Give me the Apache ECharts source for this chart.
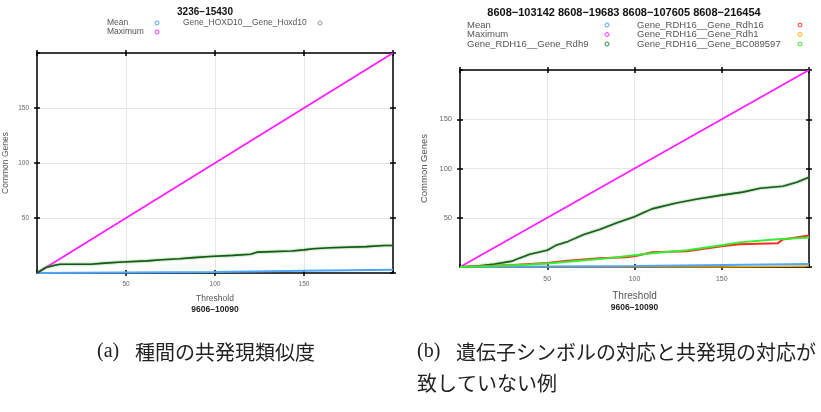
<!DOCTYPE html>
<html>
<head>
<meta charset="utf-8">
<script src="https://cdn.jsdelivr.net/npm/echarts@6/dist/echarts.min.js"></script>
<style>
  html, body { margin: 0; padding: 0; background: #fff; }
  #chart { width: 821px; height: 412px; }
</style>
</head>
<body>
<div id="chart"></div>
<script>
// (a) 3236-15430
const meanA = [[0, 0], [50, 0.5], [100, 1], [150, 2], [200, 3]];
const maxA = [[0, 0], [200, 200]];
const hoxd10A = [[0, 0], [5, 5], [10, 7], [13, 8], [30, 8], [38, 9], [48, 10], [62, 11], [70, 12], [80, 13],
  [88, 14], [97, 15], [110, 16], [120, 17], [124, 19], [143, 20], [150, 21], [155, 22], [165, 23], [185, 24], [195, 25], [200, 25]];

// (b) 8608-...
const meanB = [[0, 0], [100, 1], [200, 3]];
const maxB = [[0, 0], [200, 200]];
const rdh9B = [[0, 0], [10, 1], [20, 3], [30, 6], [34, 9], [40, 13], [50, 17], [55, 22], [62, 26], [71, 33], [80, 38],
  [90, 45], [100, 51], [105, 55], [110, 59], [124, 65], [136, 69], [150, 73], [162, 76], [172, 80], [185, 82], [193, 86], [200, 91]];
const rdh16B = [[0, 0], [30, 2], [50, 4], [60, 6], [80, 9], [95, 10], [100, 11], [110, 15], [130, 16], [150, 21],
  [160, 23], [182, 24], [185, 28], [200, 32]];
const rdh1B = [[0, 0], [150, 0], [200, 1]];
const bc089597B = [[0, 0], [20, 1], [40, 2.5], [50, 3.5], [60, 5], [80, 8], [100, 12], [110, 14], [130, 17], [150, 22],
  [160, 25], [180, 28], [200, 30]];

const tickLabels = [50, 100, 150];

const FONT = '"Liberation Sans", Arial, sans-serif';

// 4 axes per dimension: main (labels, grid), inner ticks, opposite outer, opposite inner
function axesFor(gridIndex, dim, opt) {
  const sides = dim === 'x' ? ['bottom', 'top'] : ['left', 'right'];
  const tick = inside => ({ inside: inside, length: 3, lineStyle: { color: '#000', width: 1.5 } });
  const base = {
    type: 'value', gridIndex: gridIndex, min: 0, max: 200, interval: 50,
    axisLine: { onZero: false, lineStyle: { color: '#000', width: 1.5 } },
    axisTick: tick(false),
    axisLabel: { show: false },
    splitLine: { show: false }
  };
  const main = Object.assign({}, base, {
    position: sides[0],
    axisLabel: {
      show: true, fontSize: opt.labelSize, color: '#666', fontFamily: FONT, margin: opt.margin,
      showMinLabel: false, showMaxLabel: false,
      formatter: v => tickLabels.indexOf(v) >= 0 ? String(v) : ''
    },
    splitLine: { show: true, lineStyle: { color: '#e6e6e6', width: 1 } },
    name: opt.name, nameLocation: 'middle', nameGap: opt.nameGap,
    nameTextStyle: opt.nameTextStyle
  });
  const noLine = { show: false, onZero: false };
  const mainIn = Object.assign({}, base, { position: sides[0], axisLine: noLine, axisTick: tick(true) });
  const opp = Object.assign({}, base, { position: sides[1] });
  const oppIn = Object.assign({}, base, { position: sides[1], axisLine: noLine, axisTick: tick(true) });
  return [main, mainIn, opp, oppIn];
}

function line(name, data, color, xi, yi, width, extra) {
  return Object.assign({
    name: name, type: 'line', data: data, xAxisIndex: xi, yAxisIndex: yi,
    symbol: 'none', silent: true, animation: false,
    lineStyle: { color: color, width: width || 2 }
  }, extra || {});
}

const greenGlow = c => ({ lineStyle: { color: c, width: 1.6, shadowColor: 'rgba(70,160,70,0.9)', shadowBlur: 2 } });

const xAxes = [].concat(
  axesFor(0, 'x', { labelSize: 6.5, margin: 8, nameGap: 20, name: '{t|Threshold}\n{s|9606−10090}',
    nameTextStyle: { rich: { t: { fontSize: 8.5, color: '#555', fontFamily: FONT, lineHeight: 11 },
      s: { fontSize: 8.5, color: '#222', fontWeight: 'bold', fontFamily: FONT, lineHeight: 11 } } } }),
  axesFor(1, 'x', { labelSize: 7, margin: 9, nameGap: 23, name: '{t|Threshold}\n{s|9606−10090}',
    nameTextStyle: { rich: { t: { fontSize: 10, color: '#555', fontFamily: FONT, lineHeight: 12 },
      s: { fontSize: 8.5, color: '#222', fontWeight: 'bold', fontFamily: FONT, lineHeight: 12 } } } })
);
const yAxes = [].concat(
  axesFor(0, 'y', { labelSize: 6.5, margin: 8, nameGap: 27, name: 'Common Genes',
    nameTextStyle: { fontSize: 8.5, color: '#555', fontFamily: FONT } }),
  axesFor(1, 'y', { labelSize: 7.5, margin: 8, nameGap: 31, name: 'Common Genes',
    nameTextStyle: { fontSize: 9.5, color: '#555', fontFamily: FONT } })
);

function legendItems(items, size) {
  const out = [];
  items.forEach(it => {
    out.push({ type: 'text', x: it.x, y: it.y,
      style: { text: it.name, fontSize: size, fill: '#555', fontFamily: FONT, textVerticalAlign: 'middle' } });
    out.push({ type: 'circle', shape: { cx: it.mx, cy: it.y, r: 2 },
      style: { fill: 'none', stroke: it.color, lineWidth: 1 } });
  });
  return out;
}

const graphics = [].concat(
  [
    { type: 'text', x: 205, y: 12, style: { text: '3236−15430', fontSize: 10, fontWeight: 'bold', fill: '#111',
      fontFamily: FONT, textAlign: 'center', textVerticalAlign: 'middle' } },
    { type: 'text', x: 624, y: 13, style: { text: '8608−103142 8608−19683 8608−107605 8608−216454', fontSize: 11,
      fontWeight: 'bold', fill: '#111', fontFamily: FONT, textAlign: 'center', textVerticalAlign: 'middle' } }
  ],
  legendItems([
    { name: 'Mean', x: 107, y: 23, mx: 157, color: '#4da6ff' },
    { name: 'Maximum', x: 107, y: 32, mx: 157, color: '#ff33ff' },
    { name: 'Gene_HOXD10__Gene_Hoxd10', x: 183, y: 23, mx: 320, color: '#999999' }
  ], 8.5),
  legendItems([
    { name: 'Mean', x: 467, y: 25, mx: 607, color: '#4da6ff' },
    { name: 'Maximum', x: 467, y: 34.5, mx: 607, color: '#ff33ff' },
    { name: 'Gene_RDH16__Gene_Rdh9', x: 467, y: 44, mx: 607, color: '#2e8b2e' },
    { name: 'Gene_RDH16__Gene_Rdh16', x: 637, y: 25, mx: 800, color: '#ff3333' },
    { name: 'Gene_RDH16__Gene_Rdh1', x: 637, y: 34.5, mx: 800, color: '#ffaa00' },
    { name: 'Gene_RDH16__Gene_BC089597', x: 637, y: 44, mx: 800, color: '#33ee33' }
  ], 9.5),
  [
    { type: 'text', x: 97, y: 352, style: { text: '(a)', fontSize: 20, fill: '#222',
      fontFamily: '"Liberation Serif", serif', textVerticalAlign: 'middle' } },
    { type: 'text', x: 135, y: 352, style: { text: '種間の共発現類似度', fontSize: 20, fill: '#222',
      fontFamily: '"Noto Sans CJK JP", sans-serif', textVerticalAlign: 'middle' } },
    { type: 'text', x: 417, y: 352, style: { text: '(b)', fontSize: 20, fill: '#222',
      fontFamily: '"Liberation Serif", serif', textVerticalAlign: 'middle' } },
    { type: 'text', x: 456, y: 352, style: { text: '遺伝子シンボルの対応と共発現の対応が', fontSize: 20, fill: '#222',
      fontFamily: '"Noto Sans CJK JP", sans-serif', textVerticalAlign: 'middle' } },
    { type: 'text', x: 417, y: 383, style: { text: '致していない例', fontSize: 20, fill: '#222',
      fontFamily: '"Noto Sans CJK JP", sans-serif', textVerticalAlign: 'middle' } }
  ]
);

const chart = echarts.init(document.getElementById('chart'), null, { renderer: 'canvas' });
chart.setOption({
  backgroundColor: '#fff',
  animation: false,
  grid: [
    { left: 37, right: 428, top: 53, bottom: 139 },
    { left: 460, right: 12, top: 70, bottom: 145 }
  ],
  xAxis: xAxes,
  yAxis: yAxes,
  series: [
    line('Mean', meanA, '#4da6ff', 0, 0, 2),
    line('Maximum', maxA, '#ff22ff', 0, 0, 2),
    line('Gene_HOXD10__Gene_Hoxd10', hoxd10A, '#145a14', 0, 0, 1.6, greenGlow('#145a14')),
    line('Gene_RDH16__Gene_Rdh1', rdh1B, '#ffaa00', 4, 4, 1.5),
    line('Mean', meanB, '#4da6ff', 4, 4, 2),
    line('Maximum', maxB, '#ff22ff', 4, 4, 2),
    line('Gene_RDH16__Gene_Rdh9', rdh9B, '#1b5e1b', 4, 4, 1.6, greenGlow('#1b5e1b')),
    line('Gene_RDH16__Gene_Rdh16', rdh16B, '#ff2a1a', 4, 4, 2),
    line('Gene_RDH16__Gene_BC089597', bc089597B, '#33ee33', 4, 4, 2)
  ],
  graphic: graphics
});
</script>
</body>
</html>
